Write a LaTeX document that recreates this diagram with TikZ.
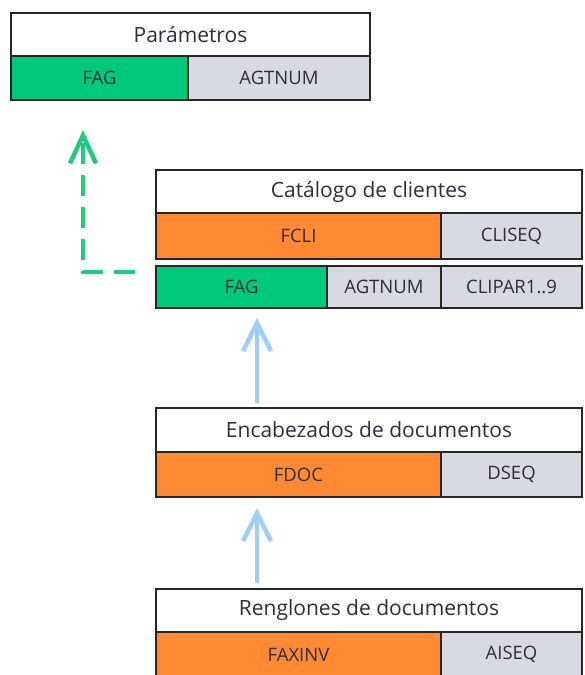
\documentclass[tikz,border=0pt]{standalone}
\usepackage{fontspec}
\setmainfont{Open Sans}
\usetikzlibrary{arrows.meta}
\definecolor{fgreen}{HTML}{00C97B}
\definecolor{forange}{HTML}{FF8A33}
\definecolor{fgray}{HTML}{D7DAE0}
\definecolor{fborder}{HTML}{262626}
\definecolor{ftext}{HTML}{2E2E3A}
\definecolor{farrblue}{HTML}{9CCFF5}
\definecolor{farrgreen}{HTML}{1FCB7E}
\begin{document}
\begin{tikzpicture}[x=1pt,y=-1pt,
  cell/.style={draw=fborder, line width=2pt, inner sep=0pt, outer sep=0pt, anchor=north west, text=ftext, font=\fontsize{18.5}{20}\selectfont},
  titlecell/.style={cell, fill=white, font=\fontsize{21}{24}\selectfont},
  greencell/.style={cell, fill=fgreen},
  orangecell/.style={cell, fill=forange},
  graycell/.style={cell, fill=fgray},
  bluearr/.style={draw=farrblue, line width=4.5pt, -{Straight Barb[length=28pt,width=28pt]}},
  greenarr/.style={draw=farrgreen, line width=4.5pt, dash pattern=on 21pt off 11pt, -{Straight Barb[length=28pt,width=26pt]}}
]
\useasboundingbox (0,0) rectangle (584,675);
\fill[white] (0,0) rectangle (584,675);

% Parametros
\node[titlecell, minimum width=359pt, minimum height=43pt] (p-title) at (11,13) {Parámetros};
\node[greencell, minimum width=177pt, minimum height=44pt] (p-fag) at (11,56) {FAG};
\node[graycell, minimum width=182pt, minimum height=44pt] (p-agt) at (188,56) {AGTNUM};

% Catalogo de clientes
\node[titlecell, minimum width=426pt, minimum height=43pt] (c-title) at (156,170) {Catálogo de clientes};
\node[orangecell, minimum width=285pt, minimum height=46pt] (c-fcli) at (156,213) {FCLI};
\node[graycell, minimum width=141pt, minimum height=46pt] (c-cliseq) at (441,213) {CLISEQ};
\node[greencell, minimum width=171pt, minimum height=42pt] (c-fag) at (156,266) {FAG};
\node[graycell, minimum width=114pt, minimum height=42pt] (c-agt) at (327,266) {AGTNUM};
\node[graycell, minimum width=141pt, minimum height=42pt] (c-clipar) at (441,266) {CLIPAR1..9};

% Encabezados de documentos
\node[titlecell, minimum width=426pt, minimum height=44pt] (e-title) at (156,408) {Encabezados de documentos};
\node[orangecell, minimum width=285pt, minimum height=45pt] (e-fdoc) at (156,452) {FDOC};
\node[graycell, minimum width=141pt, minimum height=45pt] (e-dseq) at (441,452) {DSEQ};

% Renglones de documentos
\node[titlecell, minimum width=426pt, minimum height=43pt] (r-title) at (156,589) {Renglones de documentos};
\node[orangecell, minimum width=285pt, minimum height=45pt] (r-faxinv) at (156,632) {FAXINV};
\node[graycell, minimum width=141pt, minimum height=45pt] (r-aiseq) at (441,632) {AISEQ};

% connectors
\draw[bluearr] ([xshift=101pt,yshift=5pt]e-title.north west) -- ([xshift=101pt,yshift=-10pt]c-fag.south west);
\draw[bluearr] ([xshift=101pt,yshift=6pt]r-title.north west) -- ([xshift=101pt,yshift=-11pt]e-fdoc.south west);
\draw[greenarr] ([xshift=-21pt,yshift=-6pt]c-fag.north west) -| ([xshift=72pt,yshift=-30pt]p-fag.south west);
\end{tikzpicture}
\end{document}
